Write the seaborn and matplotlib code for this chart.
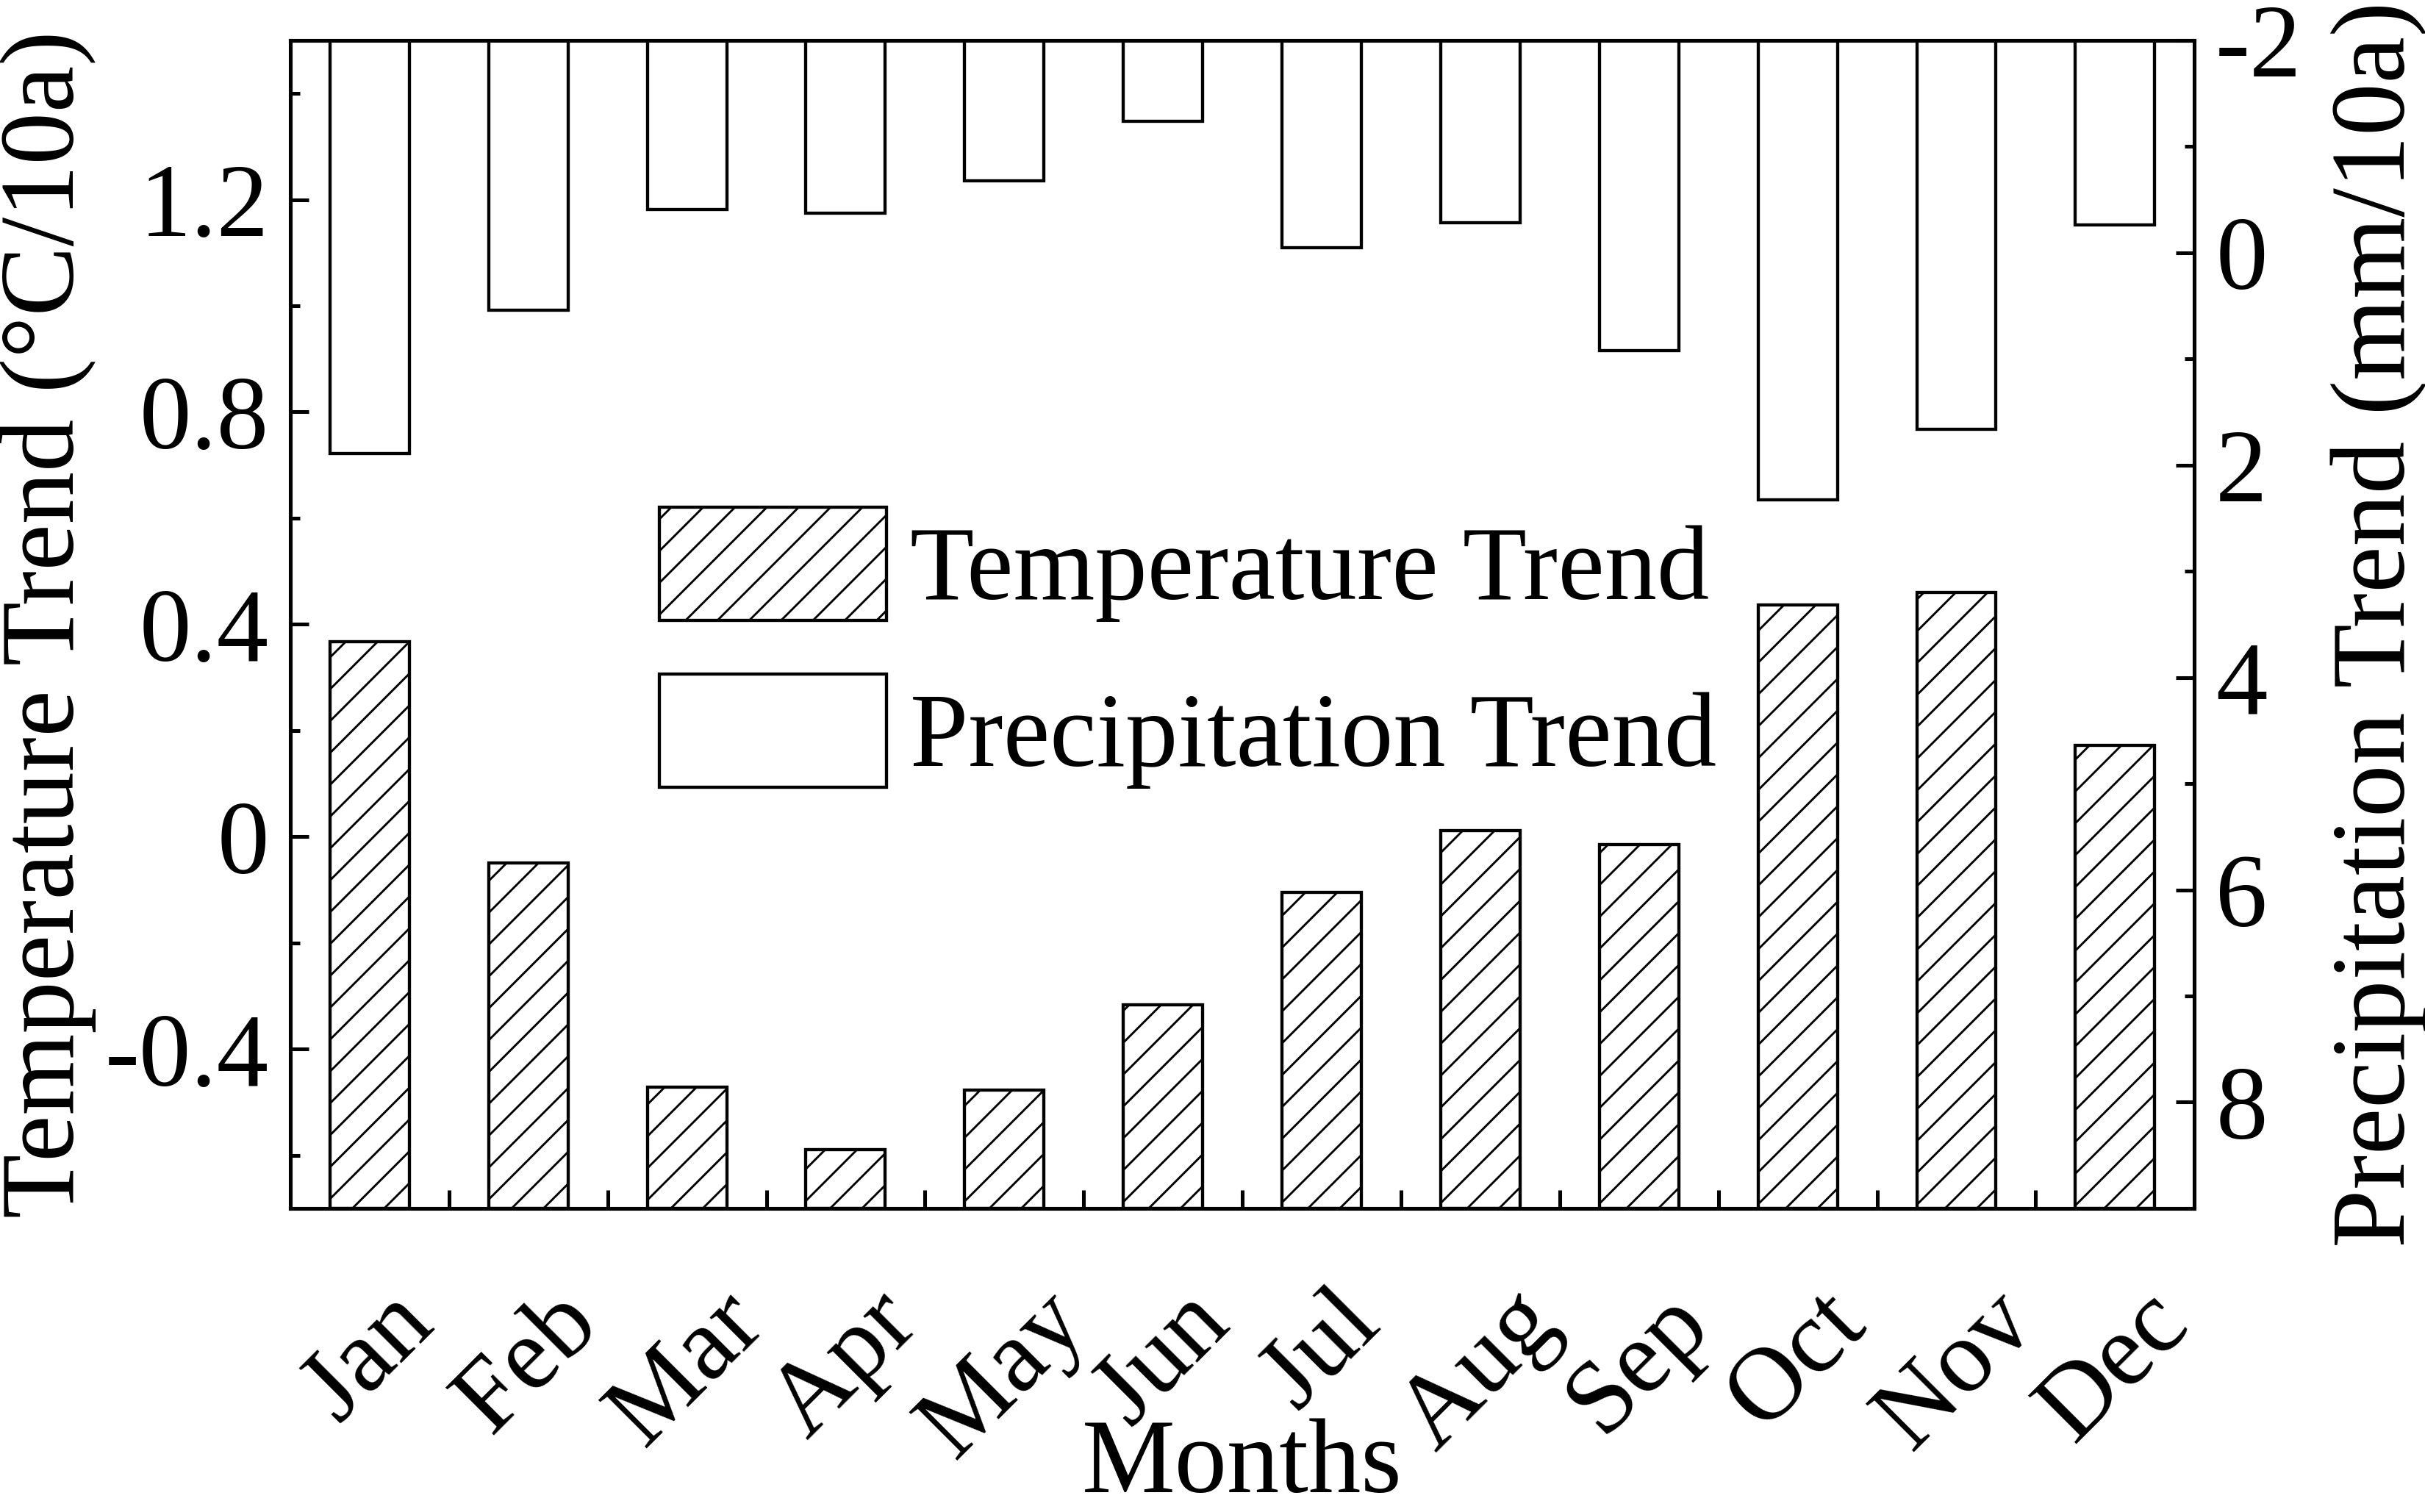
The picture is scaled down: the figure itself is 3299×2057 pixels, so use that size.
import matplotlib
matplotlib.use("Agg")
import matplotlib.pyplot as plt
from matplotlib.ticker import AutoMinorLocator, FixedLocator, FuncFormatter, MultipleLocator
import numpy as np
import pandas as pd
import seaborn as sns


MONTHS = ["Jan", "Feb", "Mar", "Apr", "May", "Jun",
          "Jul", "Aug", "Sep", "Oct", "Nov", "Dec"]
TEMP_TREND = [0.367, -0.049, -0.471, -0.590, -0.477, -0.317,
              -0.105, 0.012, -0.015, 0.436, 0.460, 0.172]
PRECIP_TREND = [1.89, 0.54, -0.41, -0.37, -0.68, -1.24,
                -0.05, -0.28, 0.92, 2.33, 1.66, -0.26]

TEMP_LIMITS = (-0.7, 1.5)
PRECIP_LIMITS = (9, -2)
TICK_SIZE = 39
LABEL_SIZE = 39.5

sns.set_theme(style="ticks")
plt.rcParams.update({
    "font.family": ["Liberation Serif", "DejaVu Serif"],
    "font.size": LABEL_SIZE,
    "axes.unicode_minus": False,
    "axes.linewidth": 1.4,
    "axes.edgecolor": "black",
    "axes.labelcolor": "black",
    "text.color": "black",
    "xtick.color": "black",
    "ytick.color": "black",
    "hatch.linewidth": 0.8,
    "hatch.color": "black",
})


def main() -> None:
    df = pd.DataFrame({"month": MONTHS, "temp": TEMP_TREND, "precip": PRECIP_TREND})
    # bars start at the axis edge (Origin style), so pass offset heights + bottom
    df["temp_height"] = df["temp"] - TEMP_LIMITS[0]
    df["precip_height"] = df["precip"] - PRECIP_LIMITS[1]

    fig = plt.figure(figsize=(12.69, 7.912), dpi=260)
    ax = fig.add_axes([0.1197, 0.2008, 0.7851, 0.7725])
    ax2 = ax.twinx()

    sns.barplot(data=df, x="month", y="temp_height", order=MONTHS, width=0.5,
                color="white", saturation=1, errorbar=None, edgecolor="black",
                linewidth=1.2, hatch="//", bottom=TEMP_LIMITS[0], ax=ax)
    sns.barplot(data=df, x="month", y="precip_height", order=MONTHS, width=0.5,
                color="white", saturation=1, errorbar=None, edgecolor="black",
                linewidth=1.2, bottom=PRECIP_LIMITS[1], ax=ax2)

    ax.set_xlim(-0.5, len(MONTHS) - 0.5)
    ax.set_ylim(*TEMP_LIMITS)
    ax2.set_ylim(*PRECIP_LIMITS)

    # left axis
    ax.yaxis.set_major_locator(MultipleLocator(0.4))
    ax.yaxis.set_minor_locator(AutoMinorLocator(2))
    ax.yaxis.set_major_formatter(FuncFormatter(lambda v, _: "0" if abs(v) < 1e-9 else f"{v:.1f}"))
    ax.tick_params(axis="y", which="both", direction="in", left=True, right=False,
                   width=1.4, pad=8, labelsize=TICK_SIZE)
    ax.tick_params(axis="y", which="major", length=7)
    ax.tick_params(axis="y", which="minor", length=3.6)

    # x axis: labels at bars, ticks between bars
    ax.xaxis.set_minor_locator(FixedLocator(np.arange(0.5, len(MONTHS) - 1, 1.0)))
    ax.tick_params(axis="x", which="major", length=0, pad=25, labelsize=TICK_SIZE,
                   labelrotation=45, top=False)
    ax.tick_params(axis="x", which="minor", direction="in", length=7, width=1.4,
                   bottom=True, top=False)

    # right axis
    ax2.yaxis.set_major_locator(MultipleLocator(2))
    ax2.yaxis.set_minor_locator(AutoMinorLocator(2))
    ax2.yaxis.set_major_formatter(FuncFormatter(lambda v, _: f"{int(round(v))}"))
    ax2.tick_params(axis="y", which="both", direction="in", right=True, left=False,
                    width=1.4, pad=8, labelsize=TICK_SIZE)
    ax2.tick_params(axis="y", which="major", length=7)
    ax2.tick_params(axis="y", which="minor", length=3.6)
    ax2.set_xlabel("")

    ax.set_xlabel("Months", fontsize=LABEL_SIZE)
    ax.xaxis.set_label_coords(0.5, -0.180)
    ax.set_ylabel("Temperature Trend (°C/10a)", fontsize=LABEL_SIZE)
    ax.yaxis.set_label_coords(-0.102, 0.5)
    ax2.set_ylabel("Precipitation Trend (mm/10a)", fontsize=LABEL_SIZE)
    ax2.yaxis.set_label_coords(1.0714, 0.5)

    for spine in list(ax.spines.values()) + list(ax2.spines.values()):
        spine.set_linewidth(1.4)
        spine.set_color("black")

    ax2.legend(handles=[ax.containers[0], ax2.containers[0]],
               labels=["Temperature Trend", "Precipitation Trend"],
               loc="upper left", bbox_to_anchor=(0.1938, 0.6004), frameon=False,
               borderpad=0, borderaxespad=0, handlelength=2.17, handleheight=1.282,
               labelspacing=0.5, handletextpad=0.22, fontsize=LABEL_SIZE)

    fig.savefig("out.png", dpi=260)
    plt.close(fig)


if __name__ == "__main__":
    main()
